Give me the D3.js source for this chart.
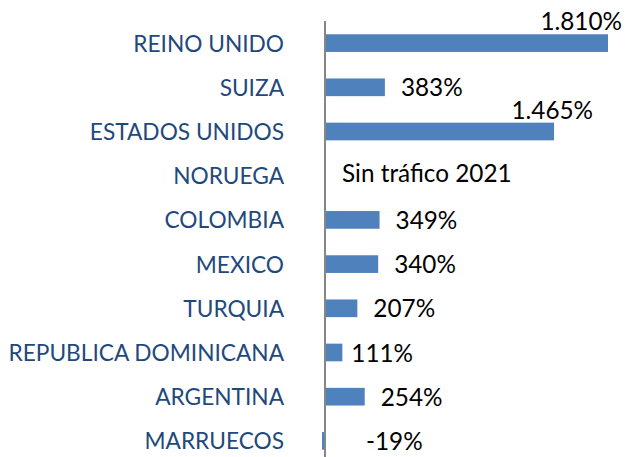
<!DOCTYPE html>
<html>
<head>
<meta charset="utf-8">
<script src="https://cdnjs.cloudflare.com/ajax/libs/d3/7.8.5/d3.min.js"></script>
<style>
  body { margin: 0; background: #fff; }
  text { font-family: Lato, "Open Sans", sans-serif; }
</style>
</head>
<body>
<div id="chart"></div>
<script>
// data
var paises = ["REINO UNIDO", "SUIZA", "ESTADOS UNIDOS", "NORUEGA", "COLOMBIA",
              "MEXICO", "TURQUIA", "REPUBLICA DOMINICANA", "ARGENTINA", "MARRUECOS"];
var variacion = [1810, 383, 1465, null, 349, 340, 207, 111, 254, -19];
var etiquetas = ["1.810%", "383%", "1.465%", "Sin tráfico 2021", "349%",
                 "340%", "207%", "111%", "254%", "-19%"];

var width = 625, height = 457;
var catSize = 22.7;   // Lato caps run wider than the original font
var valSize = 24.3;

var svg = d3.select("#chart")
    .append("svg")
    .attr("width", width)
    .attr("height", height);

var data = paises.map(function(p, i) {
    return {pais: p, valor: variacion[i], etiqueta: etiquetas[i]};
});

// axis sits at x=325, chart runs off the bottom of the picture
var xScale = d3.scaleLinear()
    .domain([0, 1810])
    .range([325, 608]);

var yScale = d3.scaleBand()
    .domain(paises)
    .range([21, 463])
    .paddingInner(0.6)
    .paddingOuter(0.3);

var mid = function(d) { return yScale(d.pais) + yScale.bandwidth() / 2; };

// bars
svg.selectAll("rect.bar")
    .data(data.filter(function(d) { return d.valor !== null; }))
    .enter()
    .append("rect")
    .attr("class", "bar")
    .attr("x", function(d) { return xScale(Math.min(0, d.valor)); })
    .attr("y", function(d) { return yScale(d.pais); })
    .attr("width", function(d) { return Math.abs(xScale(d.valor) - xScale(0)); })
    .attr("height", yScale.bandwidth())
    .attr("fill", "#4F81BD");

// vertical axis with category names
var axis = d3.axisLeft(yScale).tickSize(0).tickPadding(41).tickSizeOuter(0);
var gAxis = svg.append("g")
    .attr("transform", "translate(" + xScale(0) + ",0)")
    .call(axis);
gAxis.select(".domain")
    .attr("d", "M0,21V463")
    .attr("stroke", "#868686")
    .attr("stroke-width", 2);
gAxis.selectAll(".tick text")
    .attr("font-family", "Lato, 'Open Sans', sans-serif")
    .attr("font-size", catSize)
    .attr("fill", "#1F497D")
    .attr("dy", null)
    .attr("y", 8.5);

// value labels (big ones sit above the bar end, like in the original)
svg.selectAll("text.valor")
    .data(data)
    .enter()
    .append("text")
    .attr("class", "valor")
    .attr("font-size", valSize)
    .attr("fill", "#000")
    .attr("text-anchor", function(d) { return d.valor > 1000 ? "end" : "start"; })
    .attr("x", function(d) {
        if (d.valor === null) return xScale(0) + 17;
        if (d.valor > 1000) return Math.min(xScale(d.valor) + 39, 622);
        if (d.valor < 0) return xScale(0) + 41;
        if (d.valor < 150) return xScale(d.valor) + 9;
        return xScale(d.valor) + 16;
    })
    .attr("y", function(d) {
        if (d.valor === null) return mid(d) + 6;
        if (d.valor > 1000) return mid(d) - 13;
        return mid(d) + 9;
    })
    .text(function(d) { return d.etiqueta; });
</script>
</body>
</html>
